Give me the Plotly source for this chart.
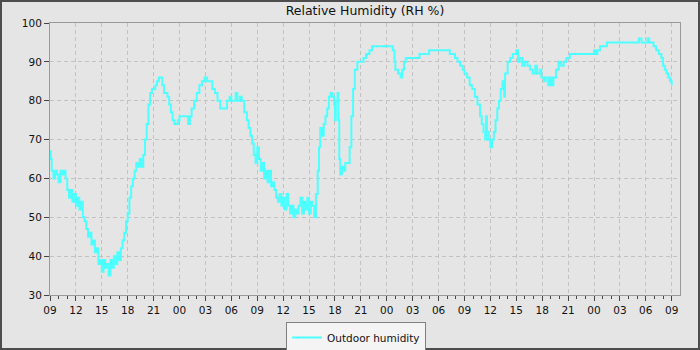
import pandas as pd
import plotly.graph_objects as go

# hours after the first sample (09:00 on day 1)
hours = [
    0.0, 0.1, 0.2, 0.4, 0.6, 0.8, 1.0, 1.2, 1.4, 1.6, 1.8, 2.0, 2.2, 2.4, 2.6, 2.8,
    3.0, 3.2, 3.4, 3.6, 3.8, 4.0, 4.2, 4.4, 4.6, 4.8, 5.0, 5.2, 5.4, 5.6, 5.8, 6.0,
    6.2, 6.4, 6.6, 6.8, 7.0, 7.2, 7.4, 7.6, 7.8, 8.0, 8.2, 8.4, 8.6, 8.8, 9.0, 9.2,
    9.4, 9.6, 9.8, 10.0, 10.2, 10.4, 10.6, 10.8, 11.0, 11.2, 11.4, 11.6, 11.8, 12.0,
    12.2, 12.4, 12.6, 12.8, 13.0, 13.2, 13.4, 13.6, 13.8, 14.0, 14.2, 14.4, 14.6, 14.8,
    15.0, 15.4, 15.8, 16.0, 16.2, 16.4, 16.7, 17.0, 17.3, 17.6, 17.9, 18.2, 18.5, 18.8,
    19.1, 19.4, 19.7, 20.0, 20.3, 20.5, 20.8, 21.0, 21.3, 21.5, 21.7, 22.0, 22.2, 22.5,
    22.8, 23.0, 23.2, 23.4, 23.6, 23.8,
    24.0, 24.2, 24.4, 24.6, 24.8, 25.0, 25.2, 25.4, 25.6, 25.8, 26.0, 26.2, 26.4, 26.6,
    26.8, 27.0, 27.2, 27.4, 27.6, 27.8, 28.0, 28.2, 28.4, 28.6, 28.8, 29.0, 29.2, 29.4,
    29.6, 29.8, 30.0, 30.2, 30.4, 30.6, 30.8, 31.0, 31.15, 31.3, 31.5, 31.7, 31.9, 32.1,
    32.3, 32.5, 32.7, 32.9, 33.0, 33.1, 33.3, 33.4, 33.5, 33.6, 33.8, 34.0, 34.2, 34.5,
    34.7, 34.9, 35.1, 35.3, 35.6, 36.0, 36.3, 36.6, 37.0, 37.3, 37.6, 38.0, 38.5, 39.0,
    39.5, 39.7, 39.9, 40.0, 40.3, 40.6, 40.8, 41.0, 41.2, 41.6, 42.0, 42.4, 42.8, 43.2,
    43.6, 43.9, 44.5, 45.0, 45.5, 46.0, 46.3, 46.6, 46.9, 47.2, 47.5, 47.8,
    48.0, 48.3, 48.6, 48.9, 49.2, 49.5, 49.8, 50.0, 50.2, 50.4, 50.5, 50.6, 50.8, 51.0,
    51.2, 51.4, 51.6, 51.8, 52.0, 52.2, 52.4, 52.6, 52.7, 53.0, 53.3, 53.6, 54.0, 54.2,
    54.4, 54.7, 55.0, 55.3, 55.6, 55.9, 56.2, 56.4, 56.7, 56.9, 57.2, 57.4, 57.7, 57.9,
    58.1, 58.3, 58.6, 58.9, 59.2, 59.5, 59.8, 60.2, 61.0, 62.0, 62.9, 63.0, 63.2, 63.4,
    63.7, 64.0, 64.5, 65.0, 65.3, 66.0, 67.0, 68.0, 68.2, 68.5, 69.0, 69.2, 69.4, 69.7,
    69.9, 70.2, 70.5, 70.8, 71.0, 71.2, 71.4, 71.6, 71.8, 72.0,
]

humidity = [
    67, 65, 62, 60, 62, 61, 59, 62, 61, 62, 60, 57, 55, 57, 54, 56,
    53, 55, 52, 54, 50, 49, 47, 45, 46, 43, 44, 41, 42, 38, 39, 36,
    39, 37, 38, 35, 39, 37, 40, 38, 41, 39, 42, 44, 46, 49, 51, 55,
    58, 60, 62, 64, 63, 65, 63, 66, 70, 74, 79, 82, 83, 83,
    84, 85, 86, 86, 84, 82, 82, 81, 79, 77, 75, 74, 74, 75,
    76, 76, 76, 74, 76, 78, 80, 82, 84, 85, 86, 85, 85, 83,
    82, 80, 78, 78, 78, 80, 81, 80, 80, 82, 80, 81, 80, 77,
    75, 73, 71, 69, 66, 64,
    68, 65, 62, 64, 60, 62, 59, 62, 58, 59, 57, 55, 54, 56,
    53, 55, 52, 56, 53, 51, 53, 50, 52, 51, 53, 55, 51, 54,
    52, 55, 51, 54, 53, 50, 56, 62, 68, 73, 71, 74, 76, 78,
    81, 82, 81, 79, 75, 80, 82, 75, 65, 61, 63, 62, 64, 64,
    68, 76, 83, 88, 90, 90, 91, 92, 93, 94, 94, 94, 94, 94,
    94, 93, 90, 88, 87, 86, 88, 90, 91, 91, 91, 91, 92, 92,
    92, 93, 93, 93, 93, 93, 92, 92, 91, 90, 89, 88,
    87, 86, 84, 83, 81, 79, 76, 74, 72, 70, 76, 72, 70, 68,
    70, 72, 75, 78, 80, 83, 85, 81, 87, 90, 91, 92, 93, 90,
    91, 89, 90, 89, 88, 87, 89, 87, 88, 86, 85, 86, 84, 86,
    84, 86, 88, 90, 89, 90, 91, 92, 92, 92, 92, 93, 92, 93,
    94, 94, 95, 95, 95, 95, 95, 95, 96, 95, 95, 96, 95, 95,
    94, 93, 92, 91, 89, 88, 87, 86, 85, 84,
]

y_ticks = [30, 40, 50, 60, 70, 80, 90, 100]

start = pd.Timestamp("2024-01-01 09:00")
times = [start + pd.Timedelta(hours=h) for h in hours]
x_end = start + pd.Timedelta(hours=72.96)

fig = go.Figure()
fig.add_trace(go.Scatter(
    x=times, y=humidity, mode="lines", name="Outdoor humidity",
    line=dict(color="rgb(77,255,255)", width=2, shape="hv"),
))

W, H = 700, 350
ml, mr, mt, mb = 50, 20, 23, 55
pw, ph = W - ml - mr, H - mt - mb
grid_dash = "4px,3px"

fig.update_layout(
    width=W, height=H,
    margin=dict(l=ml, r=mr, t=mt, b=mb, autoexpand=False),
    paper_bgcolor="#e5e5e5", plot_bgcolor="#e5e5e5",
    font=dict(family="DejaVu Sans", size=10.5, color="#111111"),
    title=dict(text="Relative Humidity (RH %)", x=0.5, xanchor="center",
               y=1 - 11 / H, yanchor="middle", xref="paper",
               font=dict(size=12.5, color="#111111")),
    showlegend=True,
    legend=dict(orientation="h", x=(356 - ml) / pw, xanchor="center",
                y=-(322 - (H - mb)) / ph, yanchor="top",
                bgcolor="#f4f4f4", bordercolor="#808080",
                borderwidth=1, font=dict(size=10.5), itemwidth=30,
                tracegroupgap=0),
    xaxis=dict(
        type="date", range=[start, x_end], tickformat="%H",
        tick0="2024-01-01 00:00", dtick=3 * 3600000,
        ticks="outside", ticklen=5, tickcolor="#444444",
        showgrid=True, gridcolor="#c2c2c2", griddash=grid_dash, gridwidth=1,
        showline=True, linecolor="#999999", linewidth=1, mirror=True,
        minor=dict(ticks="outside", dtick=3600000, ticklen=3, tickcolor="#444444",
                   showgrid=False),
        zeroline=False, fixedrange=True,
    ),
    yaxis=dict(
        range=[30, 100], tickvals=y_ticks, ticks="outside", ticklen=5,
        tickcolor="#444444",
        showgrid=True, gridcolor="#c2c2c2", griddash=grid_dash, gridwidth=1,
        showline=True, linecolor="#999999", linewidth=1, mirror=True,
        zeroline=False, fixedrange=True,
    ),
    shapes=[dict(
        type="rect", xref="paper", yref="paper",
        x0=(1 - ml) / pw, x1=(W - 1 - ml) / pw,
        y0=(ph + mt - (H - 1)) / ph, y1=(ph + mt - 1) / ph,
        line=dict(color="#4d4d4d", width=2), fillcolor="rgba(0,0,0,0)",
        layer="above",
    )],
)

fig.write_html(
    "out.html",
    config={"displayModeBar": False},
    post_script="document.body.style.margin='0';document.body.style.overflow='hidden';",
)
